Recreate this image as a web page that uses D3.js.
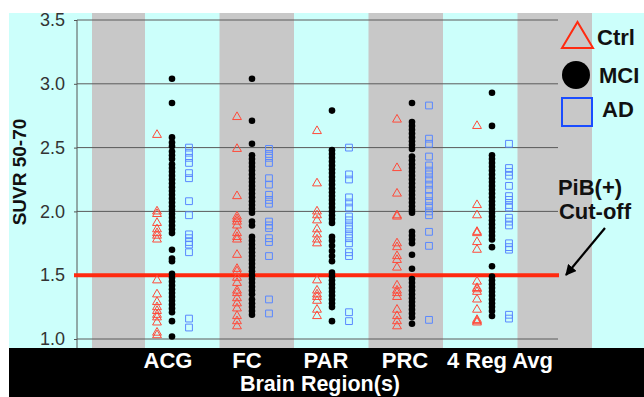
<!DOCTYPE html>
<html>
<head>
<meta charset="utf-8">
<script src="https://cdn.jsdelivr.net/npm/d3@7"></script>
<style>
  html, body { margin: 0; padding: 0; background: #ffffff; }
  svg { display: block; }
  text { font-family: "Liberation Sans", Arial, Helvetica, sans-serif; }
</style>
</head>
<body>
<svg id="chart" width="644" height="397"></svg>
<script>
// ---------- data ----------
const categories = ["ACG", "FC", "PAR", "PRC", "4 Reg Avg"];
const groups = ["Ctrl", "MCI", "AD"];
const yTicks = [1.0, 1.5, 2.0, 2.5, 3.0, 3.5];
const cutoff = 1.5;

const ctrlValues = [
  [2.60, 2.00, 1.98, 1.91, 1.86, 1.83, 1.81, 1.78, 1.46, 1.35, 1.29, 1.25, 1.22, 1.19, 1.17, 1.13, 1.05, 1.03],
  [2.74, 2.49, 2.12, 1.96, 1.94, 1.92, 1.89, 1.83, 1.80, 1.78, 1.66, 1.55, 1.53, 1.48, 1.44, 1.38, 1.36, 1.32, 1.28, 1.24, 1.18, 1.14, 1.10],
  [2.63, 2.22, 2.00, 1.97, 1.93, 1.86, 1.82, 1.78, 1.75, 1.46, 1.38, 1.35, 1.33, 1.30, 1.23, 1.18],
  [2.72, 2.34, 2.14, 1.97, 1.96, 1.75, 1.72, 1.65, 1.62, 1.56, 1.42, 1.38, 1.36, 1.33, 1.23, 1.18, 1.14, 1.10],
  [2.67, 2.05, 1.97, 1.84, 1.83, 1.76, 1.70, 1.45, 1.40, 1.39, 1.37, 1.31, 1.23, 1.15, 1.14, 1.13]
];
const mciValues = [
  [3.04, 2.85, 2.58, 2.54, 2.51, 2.47, 2.44, 2.41, 2.37, 2.34, 2.31, 2.28, 2.25, 2.22, 2.19, 2.16, 2.13, 2.10, 2.07, 2.04, 2.01, 1.98, 1.95, 1.92, 1.89, 1.86, 1.83, 1.70, 1.63, 1.61, 1.51, 1.48, 1.45, 1.42, 1.39, 1.36, 1.33, 1.30, 1.27, 1.24, 1.21, 1.14, 1.02],
  [3.04, 2.71, 2.53, 2.44, 2.41, 2.38, 2.35, 2.32, 2.29, 2.26, 2.23, 2.20, 2.17, 2.14, 2.11, 2.08, 2.05, 2.02, 1.99, 1.92, 1.89, 1.80, 1.77, 1.74, 1.71, 1.68, 1.65, 1.62, 1.59, 1.56, 1.53, 1.50, 1.47, 1.44, 1.41, 1.38, 1.35, 1.31, 1.28, 1.25, 1.22, 1.19],
  [2.79, 2.48, 2.45, 2.42, 2.39, 2.36, 2.33, 2.30, 2.27, 2.24, 2.21, 2.18, 2.15, 2.12, 2.09, 2.06, 2.03, 2.00, 1.97, 1.94, 1.91, 1.80, 1.77, 1.73, 1.69, 1.65, 1.61, 1.52, 1.49, 1.46, 1.43, 1.40, 1.37, 1.34, 1.31, 1.28, 1.25, 1.14],
  [2.85, 2.70, 2.67, 2.64, 2.61, 2.58, 2.55, 2.52, 2.49, 2.43, 2.40, 2.37, 2.34, 2.31, 2.28, 2.25, 2.22, 2.19, 2.16, 2.13, 2.10, 2.07, 2.04, 2.01, 1.99, 1.84, 1.81, 1.78, 1.75, 1.66, 1.55, 1.47, 1.44, 1.41, 1.38, 1.35, 1.32, 1.29, 1.26, 1.23, 1.20, 1.17, 1.12],
  [2.93, 2.67, 2.44, 2.41, 2.38, 2.35, 2.32, 2.29, 2.26, 2.23, 2.20, 2.17, 2.14, 2.11, 2.08, 2.05, 2.02, 1.99, 1.96, 1.93, 1.90, 1.87, 1.84, 1.81, 1.78, 1.72, 1.57, 1.49, 1.46, 1.43, 1.40, 1.37, 1.34, 1.31, 1.28, 1.25, 1.22, 1.18]
];
const adValues = [
  [2.50, 2.46, 2.42, 2.38, 2.30, 2.26, 2.08, 1.97, 1.82, 1.79, 1.76, 1.74, 1.68, 1.16, 1.09],
  [2.49, 2.45, 2.42, 2.38, 2.26, 2.21, 2.13, 2.09, 2.06, 1.92, 1.89, 1.87, 1.79, 1.76, 1.65, 1.31, 1.20],
  [2.50, 2.29, 2.25, 2.11, 2.07, 2.03, 1.96, 1.93, 1.89, 1.86, 1.82, 1.79, 1.75, 1.68, 1.65, 1.21, 1.14],
  [2.83, 2.57, 2.53, 2.43, 2.36, 2.32, 2.29, 2.25, 2.21, 2.17, 2.12, 2.08, 2.04, 2.00, 1.97, 1.84, 1.73, 1.15],
  [2.53, 2.34, 2.31, 2.28, 2.20, 2.12, 2.09, 2.05, 2.03, 1.95, 1.92, 1.89, 1.75, 1.72, 1.70, 1.19, 1.16]
];

// ---------- layout ----------
const W = 644, H = 397;
const CYAN = "#ccfffb", GRAY = "#c8c8c8";
const RED = "#ff2a10";
const svg = d3.select("#chart");

const x = d3.scaleBand().domain(categories).range([132, 532]);
const groupOffset = d3.scaleOrdinal().domain(groups).range([-15, 0, 17]);
const y = d3.scaleLinear().domain([1.0, 3.5]).range([339, 20]);

// background
svg.append("rect").attr("x", 9).attr("y", 13).attr("width", W - 9).attr("height", 348 - 13).attr("fill", CYAN);
// alternating gray stripes
const stripe = d3.scaleLinear().domain([0, 1]).range([145, 219.5]);
const stripeData = [[92, 145], [stripe(1), stripe(2)], [stripe(3), stripe(4)], [stripe(5), stripe(6)]];
svg.append("g").selectAll("rect").data(stripeData).join("rect")
  .attr("x", d => d[0]).attr("y", 13)
  .attr("width", d => d[1] - d[0]).attr("height", 348 - 13)
  .attr("fill", GRAY);

// gridlines
svg.append("g").selectAll("line").data(yTicks.filter(t => t !== cutoff)).join("line")
  .attr("x1", 77).attr("x2", 558)
  .attr("y1", d => y(d)).attr("y2", d => y(d))
  .attr("stroke", "#5a5a5a").attr("stroke-width", 1);

// y axis
const yAxis = d3.axisLeft(y).tickValues(yTicks).tickFormat(d3.format(".1f")).tickSize(3).tickPadding(9);
const ag = svg.append("g").attr("transform", "translate(77,0)").call(yAxis);
ag.select(".domain").attr("stroke", "#555").attr("d", "M0,20V348");
ag.selectAll(".tick line").attr("stroke", "#555");
ag.selectAll(".tick text").attr("fill", "#333").style("font-size", "18px")
  .style("font-family", "'Liberation Sans', Arial, sans-serif");

svg.append("text")
  .attr("transform", "translate(26,172) rotate(-90)")
  .attr("text-anchor", "middle")
  .attr("font-weight", "bold").attr("font-size", "19px").attr("fill", "#111")
  .text("SUVR 50-70");

// cutoff line
svg.append("line")
  .attr("x1", 74).attr("x2", 559)
  .attr("y1", y(cutoff)).attr("y2", y(cutoff))
  .attr("stroke", RED).attr("stroke-width", 4);

// markers
const triPath = d3.symbol().type(d3.symbolTriangle).size(34);
const sqPath = d3.symbol().type(d3.symbolSquare).size(46);
const mk = svg.append("g");
categories.forEach((c, i) => {
  const cx = x(c) + x.bandwidth() / 2;
  mk.append("g").selectAll("path").data(ctrlValues[i]).join("path")
    .attr("d", triPath)
    .attr("transform", d => `translate(${cx + groupOffset("Ctrl")},${y(d)})`)
    .attr("fill", "none").attr("stroke", "#ff4a3a").attr("stroke-width", 1);
  mk.append("g").selectAll("path").data(adValues[i]).join("path")
    .attr("d", sqPath)
    .attr("transform", d => `translate(${cx + groupOffset("AD")},${y(d)})`)
    .attr("fill", "none").attr("stroke", "#5a88ff").attr("stroke-width", 1);
  mk.append("g").selectAll("circle").data(mciValues[i]).join("circle")
    .attr("cx", cx + groupOffset("MCI")).attr("cy", d => y(d))
    .attr("r", 3.3).attr("fill", "#000");
});

// bottom black band
svg.append("rect").attr("x", 9).attr("y", 348).attr("width", W - 9).attr("height", H - 348).attr("fill", "#000");
svg.append("g").selectAll("text").data(categories).join("text")
  .attr("x", (d, i) => x(d) + x.bandwidth() / 2 + (i === categories.length - 1 ? 8 : -4 - i))
  .attr("y", 368)
  .attr("text-anchor", "middle")
  .attr("fill", "#fff").attr("font-weight", "bold").attr("font-size", "22px")
  .text(d => d);
svg.append("text").attr("x", 320).attr("y", 391).attr("text-anchor", "middle")
  .attr("fill", "#fff").attr("font-weight", "bold").attr("font-size", "21.5px")
  .text("Brain Region(s)");

// legend
const lg = svg.append("g");
lg.append("path").attr("d", "M562,48L577.5,22L593,48Z")
  .attr("fill", "none").attr("stroke", RED).attr("stroke-width", 2);
lg.append("circle").attr("cx", 576).attr("cy", 75).attr("r", 14).attr("fill", "#000");
lg.append("rect").attr("x", 562).attr("y", 98).attr("width", 30).attr("height", 28)
  .attr("fill", "none").attr("stroke", "#1a4cff").attr("stroke-width", 2);
const legendText = [["Ctrl", 597, 45], ["MCI", 599, 83], ["AD", 602, 117]];
lg.selectAll("text").data(legendText).join("text")
  .attr("x", d => d[1]).attr("y", d => d[2])
  .attr("font-weight", "bold").attr("font-size", "22px").attr("fill", "#111")
  .text(d => d[0]);

// cut-off annotation
svg.append("text").attr("x", 590).attr("y", 195).attr("text-anchor", "middle")
  .attr("font-weight", "bold").attr("font-size", "22px").attr("fill", "#111").text("PiB(+)");
svg.append("text").attr("x", 595).attr("y", 219).attr("text-anchor", "middle")
  .attr("font-weight", "bold").attr("font-size", "22px").attr("fill", "#111").text("Cut-off");
svg.append("defs").append("marker")
  .attr("id", "arrow").attr("viewBox", "0 0 10 10").attr("refX", 9).attr("refY", 5)
  .attr("markerWidth", 5).attr("markerHeight", 5).attr("orient", "auto")
  .append("path").attr("d", "M0,0L10,5L0,10Z").attr("fill", "#000");
svg.append("line").attr("x1", 605).attr("y1", 228).attr("x2", 566).attr("y2", 275)
  .attr("stroke", "#000").attr("stroke-width", 2.2).attr("marker-end", "url(#arrow)");
</script>
</body>
</html>
